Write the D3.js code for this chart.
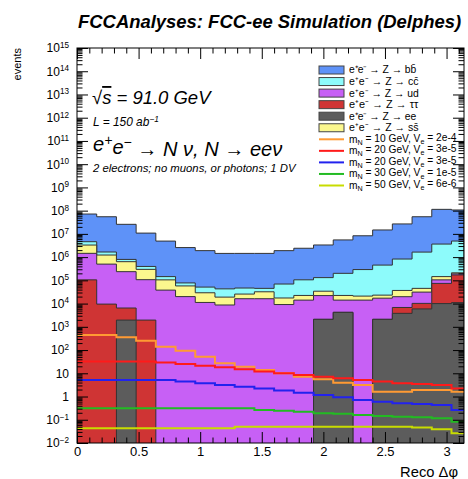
<!DOCTYPE html>
<html><head><meta charset="utf-8">
<script src="https://cdn.jsdelivr.net/npm/d3@7"></script>
<style>
body{margin:0;background:#fff}
svg{display:block}
text{font-family:"Liberation Sans",Arial,Helvetica,sans-serif}
</style>
</head><body>
<svg id="c" width="468" height="479"></svg>
<script>
// ---------------- data ----------------
const binWidth = 0.16; // histogram bins of 0.16 in Reco Δφ; axis shown 0 … π
const bgLabels = ["e\u207Ae\u207B \u2192 Z \u2192 bb\u0304", "e\u207Ae\u207B \u2192 Z \u2192 cc\u0304", "e\u207Ae\u207B \u2192 Z \u2192 ud",
                  "e\u207Ae\u207B \u2192 Z \u2192 \u03C4\u03C4", "e\u207Ae\u207B \u2192 Z \u2192 ee", "e\u207Ae\u207B \u2192 Z \u2192 ss\u0304"];
const bbVals = [6.7e7,5.3e7,2.5e7,1.04e7,4.75e6,2.5e6,1.85e6,1.4e6,1.4e6,1.4e6,1.83e6,2.3e6,3.2e6,5.3e6,8.0e6,1.43e7,2.6e7,5.3e7,1.1e8,1.02e8];
const ccVals = [1.3e6,4.3e5,1.6e5,1.0e5,4.0e4,2.0e4,2.2e4,2.4e4,2.1e4,1.3e4,5.2e4,8.3e4,9.7e4,1.78e5,2.7e5,4.3e5,7.9e5,1.6e6,3.5e6,4.7e6];
const udVals = [1.35e6,4.9e5,2.3e5,1.05e5,3.8e4,2.0e4,1.12e4,8.7e3,1.62e4,1.62e4,9.1e3,1.41e4,2.0e4,9.9e3,1.41e4,1.5e4,1.3e4,2.1e4,3.1e4,2.0e4];
const tautauVals = [1.05e5,9.5e3,4.5e3,1.95e3,0,0,0,0,0,0,0,0,0,0,0,0,3.0e3,4.3e3,6.4e4,1.6e5];
const eeVals = [0,0,1.95e3,0,0,0,0,0,0,0,0,0,2.1e3,4.2e3,0,2.1e3,3.8e3,5.9e3,1.0e4,1.1e4];
const ssVals = [1.85e6,7.3e5,4.0e5,1.9e5,6.7e4,3.75e4,1.8e4,1.03e4,9.5e3,1.6e4,8.3e3,8.3e3,1.2e4,8.3e3,6.9e3,6.0e3,1.7e4,1.4e4,4.0e4,2.0e4];

const sigMass = ["10","20","20","30","50"];
const sigVe = ["2e-4","3e-5","3e-5","1e-5","6e-6"];
const sig1 = [446,446,355,253,140,94,52,27,19,14,10,7.1,5.5,3.9,3.1,1.6,1.6,1.9,1.9,1.6];
const sig2 = [32,32,32,32,29,25,21,18,15,12,10,8.5,7.1,6.1,5.1,4.4,3.7,3.5,3.1,2.2];
const sig3 = [5.1,5.1,5.1,5.1,5.1,4.4,3.7,3.1,2.65,2.2,1.8,1.47,1.16,0.92,0.71,0.6,0.51,0.48,0.43,0.26];
const sig4 = [0.31,0.31,0.31,0.31,0.31,0.31,0.31,0.31,0.31,0.26,0.245,0.22,0.19,0.18,0.16,0.145,0.135,0.128,0.115,0.083];
const sig5 = [0.043,0.043,0.043,0.043,0.043,0.043,0.043,0.043,0.05,0.05,0.05,0.05,0.05,0.05,0.05,0.05,0.05,0.047,0.039,0.026];

const xTicks = [0,0.5,1,1.5,2,2.5,3];
const yExponents = d3.range(-2,16);

// ---------------- styles ----------------
const bgColors = {bb:"#5e92f8", cc:"#8dfbfb", ud:"#c760f5", tautau:"#cf3434", ee:"#5c5c5c", ss:"#fbf78e"};
const sigColors = ["#ff9a33","#ff1a1a","#2222ee","#22bb22","#c8dc00"];

const svg = d3.select("#c");
const X0=77, X1=464, Y0=48, Y1=443;
const x = d3.scaleLinear().domain([0, Math.PI]).range([X0, X1]);
const y = d3.scaleLog().domain([1e-2, 1e15]).range([Y1, Y0]);
const nBins = bbVals.length;
const edges = d3.range(nBins+1).map(i => Math.min(i*binWidth, Math.PI));
const clampV = v => Math.max(v, Math.pow(10,-2.4));
const pts = vals => edges.map((e,i) => [e, vals[Math.min(i, nBins-1)]]);

svg.append("clipPath").attr("id","frame").append("rect")
  .attr("x",X0).attr("y",Y0).attr("width",X1-X0).attr("height",Y1-Y0);
const plot = svg.append("g").attr("clip-path","url(#frame)");

// stack: bottom -> top
const stackLayers = [
  {vals: eeVals, color: bgColors.ee},
  {vals: tautauVals, color: bgColors.tautau},
  {vals: udVals, color: bgColors.ud},
  {vals: ssVals, color: bgColors.ss},
  {vals: ccVals, color: bgColors.cc},
  {vals: bbVals, color: bgColors.bb}
];
let run = new Array(nBins).fill(0);
stackLayers.forEach(L => { run = run.map((r,i) => r + L.vals[i]); L.cum = run.slice(); });

const area = d3.area().curve(d3.curveStepAfter)
  .x(p => x(p[0])).y0(Y1+5).y1(p => y(clampV(p[1])));
const line = d3.line().curve(d3.curveStepAfter)
  .x(p => x(p[0])).y(p => y(clampV(p[1])));

stackLayers.slice().reverse().forEach(L => {
  const p = pts(L.cum);
  plot.append("path").attr("d", area(p)).attr("fill", L.color).attr("stroke","none");
  const outline = [[edges[0], 0]].concat(p).concat([[edges[nBins], 0]]);
  plot.append("path").attr("d", d3.line().x(q=>x(q[0])).y(q=>y(clampV(q[1])))(
      outline.flatMap((q,i,a)=> i>0 && i<a.length-1 && i<a.length-2 ? [q,[a[i+1][0],q[1]]] : [q])))
    .attr("fill","none").attr("stroke","#333").attr("stroke-width",1);
});

// signals
[sig1,sig2,sig3,sig4,sig5].forEach((s,k) => {
  plot.append("path").attr("d", line(pts(s))).attr("fill","none")
    .attr("stroke", sigColors[k]).attr("stroke-width", 2);
});

// ---------------- axes ----------------
const majorY = yExponents.map(n => Math.pow(10,n));
const minorY = [];
yExponents.slice(0,-1).forEach(n => { for (let m=2;m<=9;m++) minorY.push(m*Math.pow(10,n)); });
const minorX = d3.range(0, 3.15, 0.1).filter(v => Math.abs(v*2 - Math.round(v*2)) > 1e-6);

function styleAxis(g){ g.select(".domain").remove(); g.attr("color","#000"); g.selectAll("line").attr("stroke-width",1); }

const gx = svg.append("g").attr("transform",`translate(0,${Y1})`)
  .call(d3.axisBottom(x).tickValues(xTicks).tickSize(-11).tickPadding(4).tickFormat(d3.format("~g")));
gx.call(styleAxis).selectAll("text").attr("font-size",13).attr("font-family",'"Liberation Sans",Arial,sans-serif');
svg.append("g").attr("transform",`translate(0,${Y1})`)
  .call(d3.axisBottom(x).tickValues(minorX).tickSize(-5.5).tickFormat("")).call(styleAxis);
svg.append("g").attr("transform",`translate(0,${Y0})`)
  .call(d3.axisTop(x).tickValues(xTicks).tickSize(-11).tickFormat("")).call(styleAxis);
svg.append("g").attr("transform",`translate(0,${Y0})`)
  .call(d3.axisTop(x).tickValues(minorX).tickSize(-5.5).tickFormat("")).call(styleAxis);

const gy = svg.append("g").attr("transform",`translate(${X0},0)`)
  .call(d3.axisLeft(y).tickValues(majorY).tickSize(-11).tickPadding(8).tickFormat(() => ""));
gy.call(styleAxis);
gy.selectAll(".tick text").attr("font-size",12).attr("font-family",'"Liberation Sans",Arial,sans-serif')
  .each(function(d){
    const n = Math.round(Math.log10(d));
    const t = d3.select(this);
    if (n === 0) t.text("1");
    else if (n === 1) t.text("10");
    else {
      t.text("10");
      t.append("tspan").attr("dy","-0.55em").attr("font-size","0.68em").text(n < 0 ? "\u2212" + (-n) : String(n));
    }
  });
svg.append("g").attr("transform",`translate(${X0},0)`)
  .call(d3.axisLeft(y).tickValues(minorY).tickSize(-5.5).tickFormat("")).call(styleAxis);
svg.append("g").attr("transform",`translate(${X1},0)`)
  .call(d3.axisRight(y).tickValues(majorY).tickSize(-11).tickFormat("")).call(styleAxis);
svg.append("g").attr("transform",`translate(${X1},0)`)
  .call(d3.axisRight(y).tickValues(minorY).tickSize(-5.5).tickFormat("")).call(styleAxis);

svg.append("rect").attr("x",X0).attr("y",Y0).attr("width",X1-X0).attr("height",Y1-Y0)
  .attr("fill","none").attr("stroke","#000").attr("stroke-width",1);

// ---------------- texts ----------------
function fit(sel, w){
  const cur = sel.node().getBBox().width;
  const fs = parseFloat(sel.attr("font-size"));
  if (cur > 0) sel.attr("font-size", (fs*w/cur).toFixed(2));
  return sel;
}
const title = svg.append("text").attr("x",78).attr("y",28).attr("font-size",14)
  .attr("font-weight","bold").attr("font-style","italic").text("FCCAnalyses: FCC-ee Simulation (Delphes)");
fit(title, 384);

const s1 = svg.append("text").attr("x",92).attr("y",104).attr("font-size",15).attr("font-style","italic");
s1.append("tspan").text("\u221A");
s1.append("tspan").attr("text-decoration","overline").style("text-decoration","overline").text("s");
s1.append("tspan").text(" = 91.0 GeV");
fit(s1, 121);

const s2 = svg.append("text").attr("x",93).attr("y",126).attr("font-size",12.5).attr("font-style","italic");
s2.append("tspan").text("L = 150 ab");
s2.append("tspan").attr("dy","-0.45em").attr("font-size","0.7em").text("\u22121");
fit(s2, 66);

const s3 = svg.append("text").attr("x",93).attr("y",151).attr("font-size",15).attr("font-style","italic");
s3.append("tspan").text("e");
s3.append("tspan").attr("dy","-0.45em").attr("font-size","0.7em").text("+");
s3.append("tspan").attr("dy","0.45em").text("e");
s3.append("tspan").attr("dy","-0.45em").attr("font-size","0.7em").text("\u2212");
s3.append("tspan").attr("dy","0.45em").text(" \u2192 N \u03BD, N \u2192 ee\u03BD");
fit(s3, 190);

const s4 = svg.append("text").attr("x",93).attr("y",171.5).attr("font-size",8).attr("font-style","italic")
  .text("2 electrons; no muons, or photons; 1 DV");
fit(s4, 205);

svg.append("text").attr("transform","translate(21,48) rotate(-90)").attr("text-anchor","end")
  .attr("font-size",11).text("events");

const xt = svg.append("text").attr("x",458).attr("y",477).attr("text-anchor","end").attr("font-size",12.5)
  .text("Reco \u0394\u03C6");
fit(xt, 58);

// ---------------- legend ----------------
const legX = 319, legW = 25, legTX = 349, legY0 = 70, legDY = 11.55;
const legFill = [bgColors.bb, bgColors.cc, bgColors.ud, bgColors.tautau, bgColors.ee, bgColors.ss];
const leg = svg.append("g");
bgLabels.forEach((lab,i) => {
  const cy = legY0 + i*legDY;
  leg.append("rect").attr("x",legX).attr("y",cy-4).attr("width",legW).attr("height",8)
    .attr("fill",legFill[i]).attr("stroke","#444").attr("stroke-width",1);
  const t = leg.append("text").attr("x",legTX).attr("y",cy+3.4).attr("font-size",10).text(lab);
  fit(t, 68);
});
sigMass.forEach((m,k) => {
  const cy = legY0 + (bgLabels.length+k)*legDY;
  leg.append("line").attr("x1",legX).attr("x2",legX+legW).attr("y1",cy).attr("y2",cy)
    .attr("stroke",sigColors[k]).attr("stroke-width",2);
  const t = leg.append("text").attr("x",legTX).attr("y",cy+3.4).attr("font-size",10);
  t.append("tspan").text("m");
  t.append("tspan").attr("dy","0.3em").attr("font-size","0.7em").text("N");
  t.append("tspan").attr("dy","-0.3em").text(" = " + m + " GeV, V");
  t.append("tspan").attr("dy","0.3em").attr("font-size","0.7em").text("e");
  t.append("tspan").attr("dy","-0.3em").text(" = " + sigVe[k]);
  fit(t, 108);
});
</script>
</body></html>
